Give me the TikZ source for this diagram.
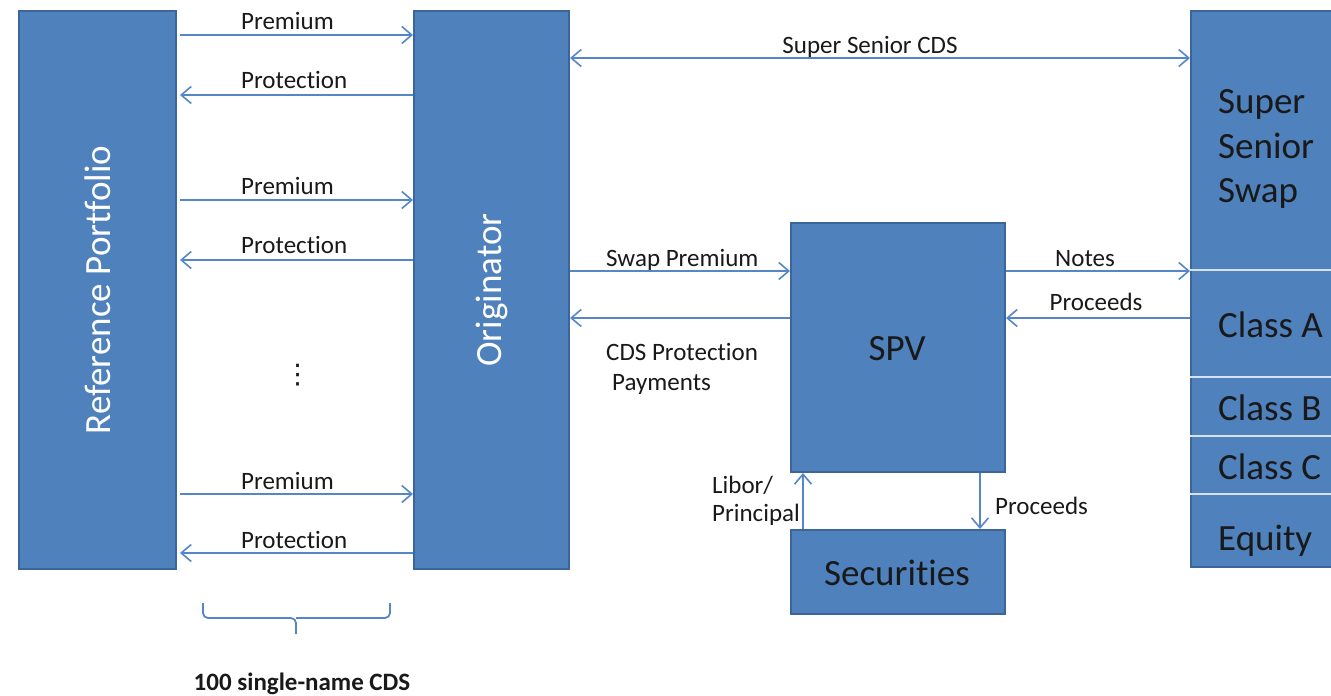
\documentclass[tikz,border=0pt]{standalone}
\usepackage{fontspec}
\setmainfont{Carlito}[Ligatures=NoCommon]
\newfontfamily\symfont{DejaVu Sans}
\usetikzlibrary{arrows.meta}
\definecolor{boxfill}{RGB}{79,129,189}
\definecolor{boxline}{RGB}{60,102,154}
\definecolor{arrcol}{RGB}{84,134,200}
\definecolor{divcol}{RGB}{215,226,240}
\definecolor{txt}{RGB}{25,25,25}
\tikzset{
  box/.style={draw=boxline, line width=2pt, fill=boxfill, anchor=north west, inner sep=0pt},
  arr/.style={draw=arrcol, line width=1.8pt, -{Straight Barb[length=10pt,width=17pt,line width=1.6pt]}},
  darr/.style={draw=arrcol, line width=1.8pt, {Straight Barb[length=10pt,width=17pt,line width=1.6pt]}-{Straight Barb[length=10pt,width=17pt,line width=1.6pt]}},
  lbl/.style={font=\fontsize{25}{30}\selectfont, text=txt, inner sep=0pt, anchor=base west},
  lblc/.style={font=\fontsize{25}{30}\selectfont, text=txt, inner sep=0pt, anchor=base},
  big/.style={font=\fontsize{37}{44}\selectfont, text=txt, inner sep=0pt},
  divider/.style={draw=divcol, line width=2pt},
  bracestyle/.style={draw=arrcol, line width=1.8pt, rounded corners=5pt}
}
\begin{document}
\begin{tikzpicture}[x=1pt,y=-1pt]
\useasboundingbox (0,0) rectangle (1331,696);
% boxes
\node[box, minimum width=157, minimum height=558] (ref) at (18,10) {};
\node[box, minimum width=155, minimum height=558] (orig) at (413,10) {};
\node[box, minimum width=214, minimum height=249] (spv) at (790,222) {};
\node[box, minimum width=214, minimum height=84] (sec) at (790,529) {};
\begin{scope}
\clip (0,0) rectangle (1331,696);
\node[box, minimum width=170, minimum height=556] (col) at (1190,10) {};
\end{scope}
% box texts
\node[big, text=white, rotate=90] (reftxt) at (ref.center) {Reference Portfolio};
\node[big, text=white, rotate=90] (origtxt) at (orig.center) {Originator};
\node[big, anchor=base] (spvtxt) at (897,360) {SPV};
\node[big, anchor=base] (sectxt) at (897,585) {Securities};
% right column dividers
\draw[divider] (col.west |- 0,270) -- (1331,270);
\draw[divider] (col.west |- 0,377) -- (1331,377);
\draw[divider] (col.west |- 0,436) -- (1331,436);
\draw[divider] (col.west |- 0,494) -- (1331,494);
\node[big, anchor=base west] (sss1) at (1218,113) {Super};
\node[big, anchor=base west] (sss2) at (1218,158) {Senior};
\node[big, anchor=base west] (sss3) at (1218,202) {Swap};
\node[big, anchor=base west] (clA) at (1218,337) {Class A};
\node[big, anchor=base west] (clB) at (1218,420) {Class B};
\node[big, anchor=base west] (clC) at (1218,479) {Class C};
\node[big, anchor=base west] (eq) at (1218,550) {Equity};
% CDS arrows
\draw[arr, shorten <=3pt] (ref.east |- 0,35) -- (orig.west |- 0,35);
\draw[arr, shorten >=3pt] (orig.west |- 0,95) -- (ref.east |- 0,95);
\draw[arr, shorten <=3pt] (ref.east |- 0,200) -- (orig.west |- 0,200);
\draw[arr, shorten >=3pt] (orig.west |- 0,260) -- (ref.east |- 0,260);
\draw[arr, shorten <=3pt] (ref.east |- 0,494) -- (orig.west |- 0,494);
\draw[arr, shorten >=3pt] (orig.west |- 0,553) -- (ref.east |- 0,553);
\node[lbl] (p1) at (241,29) {Premium};
\node[lbl] (q1) at (241,88) {Protection};
\node[lbl] (p2) at (241,194) {Premium};
\node[lbl] (q2) at (241,253) {Protection};
\node[lbl] (p3) at (241,489) {Premium};
\node[lbl] (q3) at (241,548) {Protection};
\node[font=\symfont\fontsize{27}{30}\selectfont, text=txt, inner sep=0pt] (dots) at (297.5,375) {⋮};
% super senior CDS
\draw[darr] (orig.east |- 0,58) -- (col.west |- 0,58);
\node[lblc] (sscds) at (870,53) {Super Senior CDS};
% originator - SPV
\draw[arr] (orig.east |- 0,271) -- (spv.west |- 0,271);
\node[lbl] (swp) at (606,266) {Swap Premium};
\draw[arr] (spv.west |- 0,318) -- (orig.east |- 0,318);
\node[lbl, align=left] (cdsp) at (606,390) {CDS Protection\\\hspace*{6pt}Payments};
% SPV - column
\draw[arr] (spv.east |- 0,271) -- (col.west |- 0,271);
\node[lblc] (notes) at (1085,266) {Notes};
\draw[arr] (col.west |- 0,318) -- (spv.east |- 0,318);
\node[lblc] (proc1) at (1096,310) {Proceeds};
% SPV - securities
\draw[arr] (sec.north -| 803,0) -- (spv.south -| 803,0);
\node[lbl, font=\fontsize{25}{28}\selectfont, align=left] (libor) at (712,521) {Libor/\\Principal};
\draw[arr] (spv.south -| 980,0) -- (sec.north -| 980,0);
\node[lbl] (proc2) at (995,514) {Proceeds};
% brace
\draw[bracestyle] (203,603) |- (296,618) -- (296,634);
\draw[bracestyle] (390,603) |- (296,618);
\node[font=\fontsize{25}{30}\selectfont\bfseries, text=txt, inner sep=0pt, anchor=base] (brlbl) at (302,690) {100 single-name CDS};
\end{tikzpicture}
\end{document}
